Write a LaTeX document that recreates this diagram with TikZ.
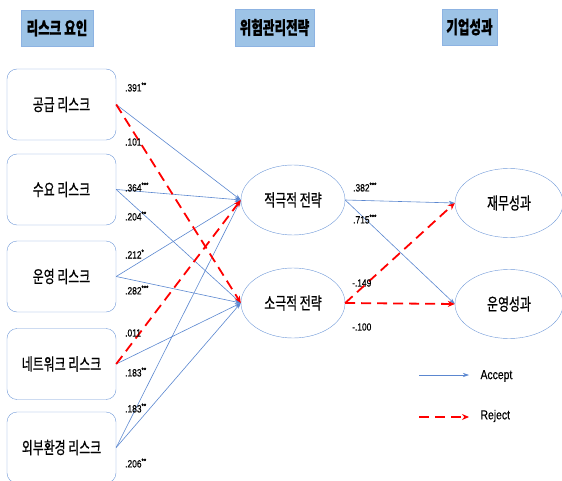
\documentclass[tikz,border=0pt]{standalone}
\usepackage{fontspec}
\setmainfont{Liberation Sans}[FakeStretch=0.8, FakeBold=0.4]
\newfontfamily\kr{Noto Sans CJK KR}[FakeStretch=0.7, FakeBold=0.6]
\usepackage{xcolor}
\usepackage{tikz}
\usetikzlibrary{arrows.meta,shapes.geometric}

\definecolor{boxblue}{HTML}{7099D8}
\definecolor{lineblue}{HTML}{5B87D0}
\definecolor{headfill}{HTML}{9DC3E6}
\definecolor{headline}{HTML}{8DB3E2}

\tikzset{
  head/.style={draw=headline, fill=headfill, inner sep=0pt,
    font=\kr\bfseries\fontsize{18}{20}\selectfont},
  riskbox/.style={draw=boxblue, rounded corners=10pt, minimum width=109pt,
    minimum height=71pt, inner sep=0pt, font=\kr\fontsize{17}{19}\selectfont},
  oval/.style={draw=boxblue, ellipse, inner sep=0pt,
    font=\kr\fontsize{17}{19}\selectfont},
  accept/.style={draw=lineblue, line width=0.6pt, -{Stealth[length=6pt,width=4pt]}},
  reject/.style={draw=red, line width=1.8pt, dash pattern=on 10pt off 6pt,
    -{Stealth[length=7pt,width=6pt]}},
  coef/.style={anchor=west, inner sep=0pt, font=\fontsize{10.5}{12}\selectfont},
}

\begin{document}
\begin{tikzpicture}[x=1pt, y=-1pt]
    \useasboundingbox (0,0) rectangle (562,481);
    % column headings
    \node[head, minimum width=72pt, minimum height=36pt] (h1) at (57,28) {리스크 요인};
    \node[head, minimum width=79pt, minimum height=37pt] (h2) at (274.5,27.5) {위험관리전략};
    \node[head, minimum width=55pt, minimum height=36pt] (h3) at (469.5,27) {기업성과};

    % risk factors
    \node[riskbox] (r1) at (61.5,104.5) {공급 리스크};
    \node[riskbox] (r2) at (61.5,189.5) {수요 리스크};
    \node[riskbox] (r3) at (61.5,276.5) {운영 리스크};
    \node[riskbox] (r4) at (61.5,364) {네트워크 리스크};
    \node[riskbox] (r5) at (61.5,447.5) {외부환경 리스크};

    % strategies
    \node[oval, minimum width=104pt, minimum height=70pt] (s1) at (293,200) {적극적 전략};
    \node[oval, minimum width=104pt, minimum height=70pt] (s2) at (293,303) {소극적 전략};

    % performance
    \node[oval, minimum width=108pt, minimum height=69pt] (p1) at (509,203) {재무성과};
    \node[oval, minimum width=108pt, minimum height=69pt] (p2) at (509,304) {운영성과};

    % paths risk -> strategy
    \draw[accept] (r1.east) -- (s1.west);
    \draw[accept] (r2.east) -- (s1.west);
    \draw[accept] (r2.east) -- (s2.west);
    \draw[accept] (r3.east) -- (s1.west);
    \draw[accept] (r3.east) -- (s2.west);
    \draw[accept] (r4.east) -- (s2.west);
    \draw[accept] (r5.east) -- (s1.west);
    \draw[accept] (r5.east) -- (s2.west);
    \draw[reject] (r1.east) -- (s2.west);
    \draw[reject] (r4.east) -- (s1.west);

    % paths strategy -> performance
    \draw[accept] (s1.east) -- (p1.west);
    \draw[accept] (s1.east) -- (p2.west);
    \draw[reject] (s2.east) -- (p1.west);
    \draw[reject] (s2.east) -- (p2.west);

    % coefficients
    \node[coef] (c1) at (125,87) {.391\textsuperscript{**}};
    \node[coef] (c2) at (125,142) {.101};
    \node[coef] (c3) at (125,187) {.364\textsuperscript{***}};
    \node[coef] (c4) at (125,216) {.204\textsuperscript{**}};
    \node[coef] (c5) at (125,254) {.212\textsuperscript{*}};
    \node[coef] (c6) at (125,290) {.282\textsuperscript{***}};
    \node[coef] (c7) at (125,333) {.011};
    \node[coef] (c8) at (125,372) {.183\textsuperscript{**}};
    \node[coef] (c9) at (125,408) {.183\textsuperscript{**}};
    \node[coef] (c10) at (125,463) {.206\textsuperscript{**}};
    \node[coef] (c11) at (353,187) {.382\textsuperscript{***}};
    \node[coef] (c12) at (353,219) {.715\textsuperscript{***}};
    \node[coef] (c13) at (352,283) {-.149};
    \node[coef] (c14) at (352,327) {-.100};

    % legend
    \coordinate (la) at (419,375);
    \coordinate (lb) at (469,375);
    \coordinate (lc) at (419,417);
    \coordinate (ld) at (469,417);
    \draw[accept] (la) -- (lb);
    \draw[reject] (lc) -- (ld);
    \node[anchor=west, font=\fontsize{13}{15}\selectfont] (acc) at (477,376) {Accept};
    \node[anchor=west, font=\fontsize{13}{15}\selectfont] (rej) at (477,416) {Reject};
\end{tikzpicture}
\end{document}
